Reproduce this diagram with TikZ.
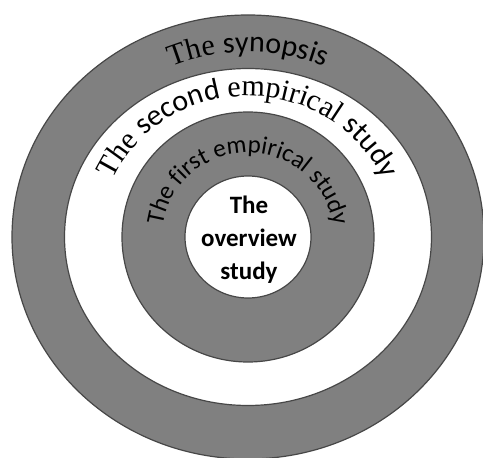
\documentclass[tikz,border=0pt]{standalone}
\usepackage{fontspec}
\setmainfont{Carlito}
\newfontfamily\serf{Liberation Serif}
\newfontfamily\sanf{Carlito}
\usetikzlibrary{decorations.text}
\newcommand\szA{\fontsize{30}{33}\selectfont}
\newcommand\szB{\fontsize{30}{34}\selectfont}
\newcommand\szC{\fontsize{25}{29}\selectfont}
\begin{document}
\begin{tikzpicture}[x=1pt,y=1pt,
  ring/.style={draw=black!72, line width=1.2pt},
  darkfill/.style={ring, fill=black!50},
  lightfill/.style={ring, fill=white},
  arctext/.style={decorate, decoration={text along path, text align=center, text color=black}}]
\useasboundingbox (-248,-221) rectangle (235,237);
\clip (-248,-221) rectangle (235,237);
\fill[white] (-248,-221) rectangle (235,237);
\draw[darkfill] (0,0) ellipse [x radius=236, y radius=222];
\draw[lightfill] (0,0) ellipse [x radius=183.5, y radius=168.5];
\draw[darkfill] (0,0) ellipse [x radius=126, y radius=125];
\draw[lightfill] (0,0) ellipse [x radius=63, y radius=61];
% The synopsis
\path[arctext, decoration={text={|\serf\szA|The |\sanf\szA|synopsis}}]
  (150:196 and 185) arc [start angle=150, end angle=30, x radius=196, y radius=185];
% The second empirical study
\path[arctext, decoration={text={|\serf\szB|The |\sanf\szB|second |\serf\szB|empirical |\sanf\szB|study}}]
  (178:148 and 141) arc [start angle=178, end angle=2, x radius=148, y radius=141];
% The first empirical study
\path[arctext, decoration={text={|\sanf\szC|The first empirical study}}]
  (179:86 and 84) arc [start angle=179, end angle=1, x radius=86, y radius=84];
\node[font=\sanf\bfseries\fontsize{25}{33}\selectfont, align=center] (core) at (1,-3) {The\\overview\\study};
\end{tikzpicture}
\end{document}
